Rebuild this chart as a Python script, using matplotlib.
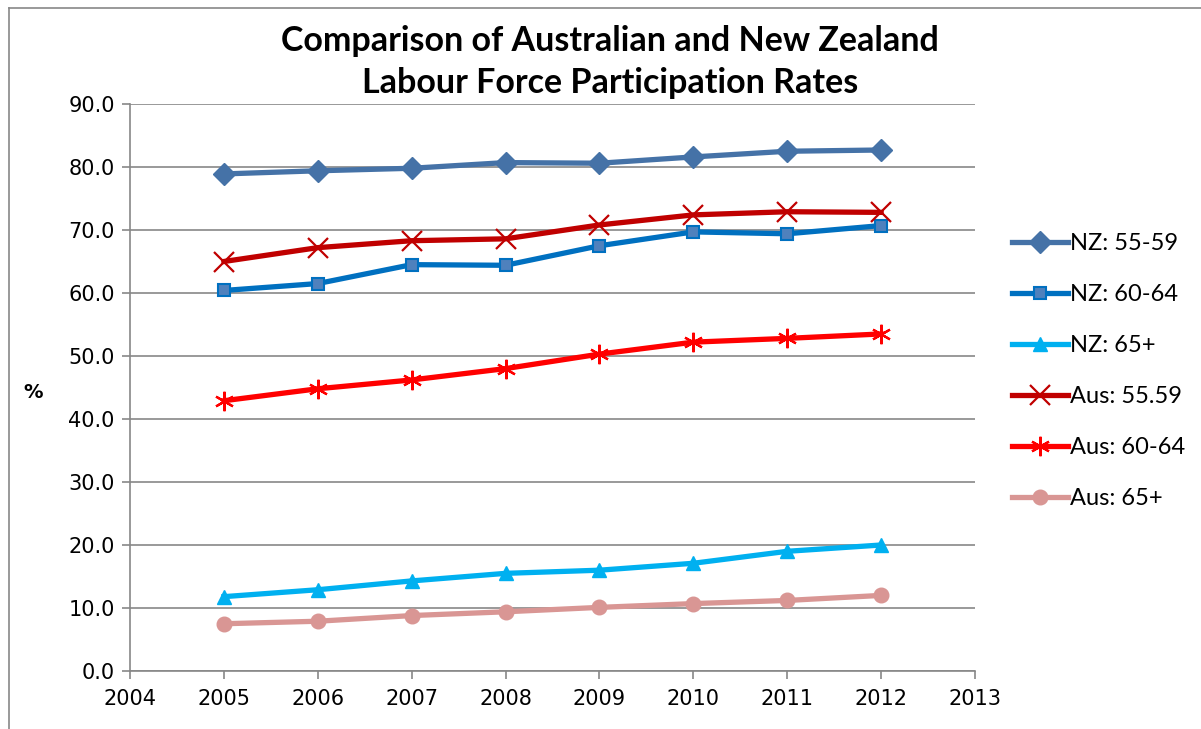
import matplotlib
matplotlib.use("Agg")
import matplotlib.pyplot as plt
from matplotlib.lines import Line2D

years = [2005, 2006, 2007, 2008, 2009, 2010, 2011, 2012]
nz_55_59 = [78.9, 79.4, 79.8, 80.7, 80.6, 81.6, 82.5, 82.7]
nz_60_64 = [60.4, 61.5, 64.5, 64.4, 67.5, 69.7, 69.4, 70.7]
nz_65 = [11.8, 12.9, 14.3, 15.5, 16.0, 17.1, 19.0, 20.0]
aus_55_59 = [65.0, 67.2, 68.3, 68.6, 70.8, 72.4, 72.9, 72.8]
aus_60_64 = [42.9, 44.8, 46.2, 48.0, 50.3, 52.2, 52.8, 53.5]
aus_65 = [7.5, 7.9, 8.8, 9.4, 10.1, 10.7, 11.2, 12.0]
labels = ["NZ: 55-59", "NZ: 60-64", "NZ: 65+", "Aus: 55.59", "Aus: 60-64", "Aus: 65+"]
x_ticks = list(range(2004, 2014))
y_ticks = [0, 10, 20, 30, 40, 50, 60, 70, 80, 90]

fig = plt.figure(figsize=(12.01, 7.29), dpi=100)
ax = fig.add_axes([130/1201, 1-671/729, (975-130)/1201, (671-104)/729])

lw = 3.8
ax.plot(years, nz_55_59, color="#4572A7", lw=lw, marker="D", ms=11, mfc="#4572A7", mec="#4572A7", label=labels[0], zorder=3)
ax.plot(years, nz_60_64, color="#0070C0", lw=lw, marker="s", ms=9, mfc="#4F81BD", mec="#0070C0", mew=1.5, label=labels[1], zorder=3)
ax.plot(years, nz_65, color="#00B0F0", lw=lw, marker="^", ms=10.5, mfc="#00B0F0", mec="#00B0F0", label=labels[2], zorder=3)
ax.plot(years, aus_55_59, color="#C00000", lw=lw, marker="x", ms=14, mec="#C00000", mew=1.6, label=labels[3], zorder=3)
ax.plot(years, aus_60_64, color="#FF0000", lw=lw, marker=(6, 2, 0), ms=14, mec="#FF0000", mew=1.6, label=labels[4], zorder=3)
ax.plot(years, aus_65, color="#D99694", lw=lw, marker="o", ms=10.5, mfc="#D99694", mec="#D99694", label=labels[5], zorder=3)

ax.set_xlim(2004, 2013)
ax.set_ylim(0, 90)
ax.set_xticks(x_ticks)
ax.set_yticks(y_ticks)
ax.set_yticklabels([f"{v:.1f}" for v in y_ticks])
ax.grid(axis="y", color="#878787", lw=1.2)
ax.set_axisbelow(True)
for s in ["top", "right"]:
    ax.spines[s].set_visible(False)
for s in ["left", "bottom"]:
    ax.spines[s].set_color("#878787")
    ax.spines[s].set_linewidth(1.2)
ax.tick_params(axis="both", color="#878787", width=1.2, length=6, labelsize=15, pad=5)
ax.tick_params(axis="x", pad=7)
for t in ax.get_xticklabels() + ax.get_yticklabels():
    t.set_fontfamily("DejaVu Sans")

fig.text(33/1201, 1-392/729, "%", fontsize=14, fontweight="bold", ha="center", va="center", family="DejaVu Sans")

fig.text(610/1201, 1-62/729, "Comparison of Australian and New Zealand\nLabour Force Participation Rates",
         ha="center", va="center", fontsize=24.5, fontweight="bold", family="Lato", linespacing=1.42)

leg = ax.legend(loc="center left", bbox_to_anchor=(1007/1201, 1-371/729), bbox_transform=fig.transFigure,
                frameon=False, labelspacing=1.27, handlelength=2.4, handletextpad=0.05,
                borderaxespad=0, borderpad=0.2,
                prop={"family": "Lato", "size": 17})

# chart area border (left and top)
fig.add_artist(Line2D([9/1201, 9/1201], [0, 1-8/729], color="#878787", lw=1.2, transform=fig.transFigure))
fig.add_artist(Line2D([9/1201, 1], [1-8/729, 1-8/729], color="#878787", lw=1.2, transform=fig.transFigure))

fig.savefig("out.png", dpi=100)
